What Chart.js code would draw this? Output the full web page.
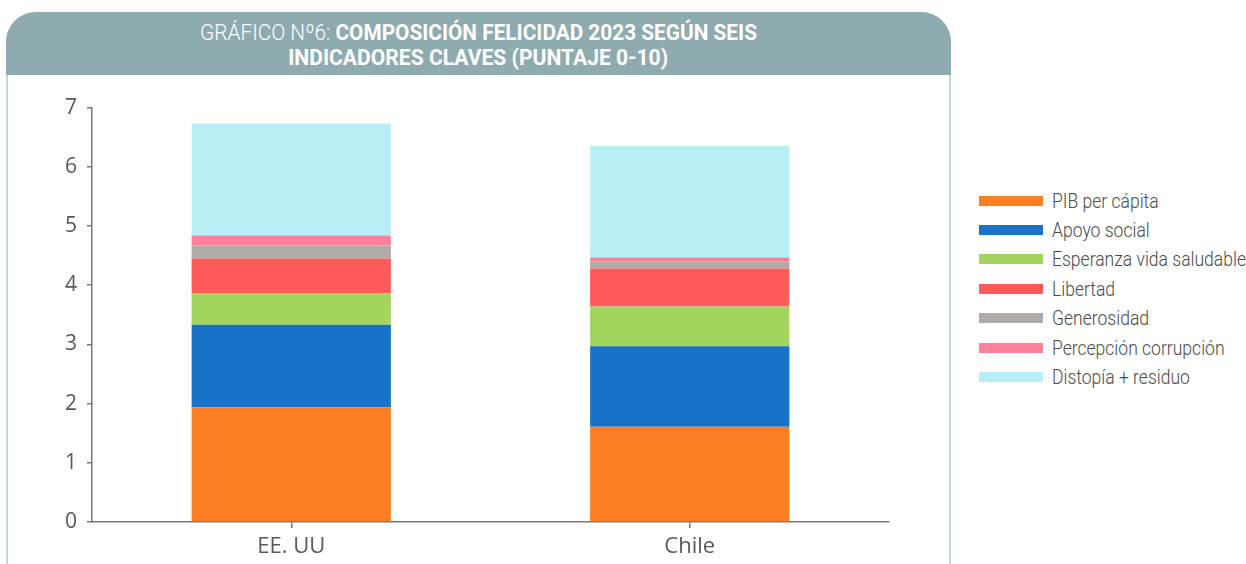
<!DOCTYPE html>
<html>
<head>
<meta charset="utf-8">
<script src="https://cdn.jsdelivr.net/npm/chart.js@4.4.0/dist/chart.umd.min.js"></script>
<style>
  body { margin: 0; background: #fff; width: 1246px; height: 564px; overflow: hidden; position: relative; }
  .box { position: absolute; left: 6px; top: 12px; width: 941px; height: 560px;
         border-left: 2px solid #c3d5d8; border-right: 2px solid #c3d5d8; border-radius: 30px 30px 0 0; }
  .banner { position: absolute; left: 6px; top: 12px; width: 945px; height: 63px; background: #8eabb0;
            border-radius: 30px 30px 0 0; color: #fff; font-family: Roboto, sans-serif; font-size: 22px; }
  .banner .line { position: absolute; left: 0; width: 945px; text-align: center; white-space: nowrap; line-height: 24px; }
  .banner .line span.fit { display: inline-block; }
  .banner .l { font-weight: 300; }
  .banner b { font-weight: 700; }
  #wrap { position: absolute; left: 0; top: 85px; }
  .legend { position: absolute; left: 979px; top: 186px; font-family: Roboto, sans-serif;
            font-size: 20px; font-weight: 300; color: #4a4a4a; }
  .legend div { height: 29.4px; display: flex; align-items: center; white-space: nowrap; }
  .legend span.sw { display: inline-block; width: 64px; height: 10px; margin-right: 9px; flex: none; }
  .legend span.tx { display: inline-block; transform-origin: left center; }
</style>
</head>
<body>
<div class="box"></div>
<div class="banner">
  <div class="line" style="top:9px"><span class="fit" id="t1"><span class="l">GRÁFICO Nº6: </span><b>COMPOSICIÓN FELICIDAD 2023 SEGÚN SEIS</b></span></div>
  <div class="line" style="top:34px"><span class="fit" id="t2"><b>INDICADORES CLAVES (PUNTAJE 0-10)</b></span></div>
</div>
<div id="wrap"><canvas id="myChart" width="900" height="479"></canvas></div>
<div class="legend" id="legend"></div>
<script>
const paises = ['EE. UU', 'Chile'];
const pib = [1.94, 1.61];
const apoyo = [1.39, 1.36];
const esperanza = [0.53, 0.67];
const libertad = [0.59, 0.64];
const generosidad = [0.22, 0.12];
const corrupcion = [0.17, 0.07];
const distopia = [1.89, 1.88];

const series = [
  ['PIB per cápita', pib, '#fd7f24'],
  ['Apoyo social', apoyo, '#1772c8'],
  ['Esperanza vida saludable', esperanza, '#a3d45e'],
  ['Libertad', libertad, '#fe5a5a'],
  ['Generosidad', generosidad, '#b0aba8'],
  ['Percepción corrupción', corrupcion, '#fe819b'],
  ['Distopía + residuo', distopia, '#b8eff7']
];

let ctx = document.querySelector('#myChart').getContext('2d');

let myChart = new Chart(ctx, {
  type: 'bar',
  data: {
    labels: paises,
    datasets: series.map(s => ({
      label: s[0],
      data: s[1],
      backgroundColor: s[2],
      borderWidth: 0,
      barPercentage: 0.5,
      categoryPercentage: 1.0
    }))
  },
  options: {
    responsive: false,
    animation: false,
    layout: { padding: { left: 0, right: 11, top: 20, bottom: 0 } },
    plugins: { legend: { display: false }, tooltip: { enabled: false } },
    scales: {
      x: {
        stacked: true,
        grid: { display: true, offset: false, drawOnChartArea: false, drawTicks: true, tickLength: 6, color: '#777', lineWidth: 1.5 },
        border: { display: true, color: '#777', width: 1.5 },
        ticks: { font: { family: '"Open Sans", sans-serif', size: 22 }, color: '#595959', padding: 6 },
        afterFit: s => { s.height = 42; }
      },
      y: {
        stacked: true,
        min: 0,
        max: 7,
        grid: { display: true, drawOnChartArea: false, drawTicks: true, tickLength: 5, color: '#777', lineWidth: 1.5 },
        border: { display: true, color: '#777', width: 1.5 },
        ticks: { stepSize: 1, font: { family: '"Open Sans", sans-serif', size: 21 }, color: '#595959', padding: 10 },
        afterFit: s => { s.width = 92; }
      }
    }
  }
});

let legend = document.querySelector('#legend');
legend.innerHTML = series.map(s =>
  `<div><span class="sw" style="background:${s[2]}"></span><span class="tx">${s[0]}</span></div>`).join('');

// squeeze text to look like the condensed face of the original
function fit(el, w) {
  el.style.transform = 'scaleX(' + (w / el.getBoundingClientRect().width) + ')';
}
fit(document.querySelector('#t1'), 557);
fit(document.querySelector('#t2'), 380);
let txs = document.querySelectorAll('.legend .tx');
let sx = 194 / txs[2].getBoundingClientRect().width;
txs.forEach(t => { t.style.transform = 'scaleX(' + sx + ')'; });
</script>
</body>
</html>
